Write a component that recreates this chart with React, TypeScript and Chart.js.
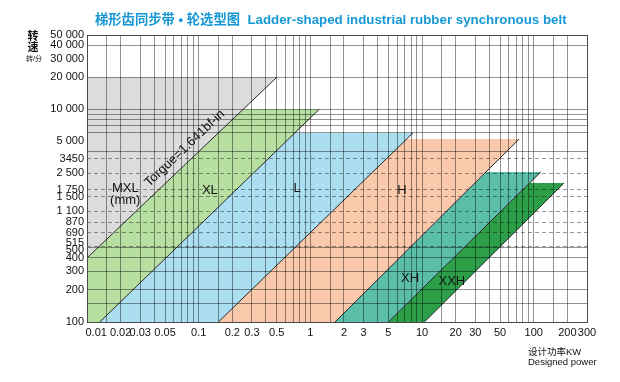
import React, { useEffect, useRef } from 'react';
import { Chart, registerables } from 'chart.js';

Chart.register(...registerables);

const FONT = '"Liberation Sans", Arial, Helvetica, "Noto Sans CJK SC", sans-serif';
const TITLE = '梯形齿同步带 • 轮选型图  Ladder-shaped industrial rubber synchronous belt';

// Belt types: top speed (rpm), power at top-right corner (kW), power at 100 rpm on the right-hand boundary (kW)
const beltNames = ['MXL', 'XL', 'L', 'H', 'XH', 'XXH'];
const beltTopRpm = [20000, 10000, 6000, 5250, 2580, 2030];
const beltTopKw = [0.5, 1.2, 8.3, 74, 116, 187];
const beltBaseKw = [0.0025, 0.013, 0.15, 1.66, 5, 10.5];
const beltColors = ['#dcdcdc', '#b7dfa2', '#abdef0', '#fac8aa', '#5bbea8', '#2c9f48'];

// Region labels (text, power, speed)
const labelText = ['MXL', '(mm)', 'XL', 'L', 'H', 'XH', 'XXH'];
const labelKw = [0.022, 0.022, 0.126, 0.76, 6.6, 7.8, 18.5];
const labelRpm = [1820, 1400, 1745, 1820, 1745, 259, 243];
const torqueText = 'Torgue=1.641bf-in';
const torqueRpm = 3560;

// Axis ticks
const xLabelValues = [0.01, 0.02, 0.03, 0.05, 0.1, 0.2, 0.3, 0.5, 1, 2, 3, 5, 10, 20, 30, 50, 100, 200, 300];
const xLabelTexts = ['      0.01', '0.02', '0.03', '0.05', '0.1', '0.2', '0.3', '0.5', '1', '2', '3', '5', '10', '20', '30', '50', '100', '200', '300'];
const xGridMantissas = [1, 1.5, 2, 3, 4, 5, 6, 7, 8, 9];
const xGridDecades = [0.01, 0.1, 1, 10, 100];

const yLabelValues = [100, 200, 300, 400, 500, 515, 690, 870, 1100, 1500, 1750, 2500, 3450, 5000, 10000, 20000, 30000, 40000, 50000];
const yLabelTexts = ['100', '200', '300', '400', '500', '515', '690', '870', '1 100', '1 500', '1 750', '2 500', '3450', '5 000', '10 000', '20 000', '30 000', '40 000', '50 000'];
const ySolidGrid = [100, 150, 200, 300, 400, 500, 4000, 6000, 7000, 8000, 9000, 10000, 20000, 40000, 50000];
const yDashedGrid = [515, 690, 870, 1100, 1500, 1750, 2500, 3450];

const X_MIN = 0.01, X_MAX = 300, Y_MIN = 100, Y_MAX = 50000;

const near = (a: number, b: number) => Math.abs(a - b) <= Math.abs(b) * 1e-6;

const xGridValues: number[] = [];
xGridDecades.forEach((d) => xGridMantissas.forEach((m) => {
  const v = parseFloat((m * d).toPrecision(6));
  if (v <= X_MAX) xGridValues.push(v);
}));
if (!xGridValues.some((v) => near(v, X_MAX))) xGridValues.push(X_MAX);

const xTickValues = Array.from(new Set([...xGridValues, ...xLabelValues])).sort((a, b) => a - b);
const yTickValues = Array.from(new Set([...ySolidGrid, ...yLabelValues])).sort((a, b) => a - b);

// power on the right-hand boundary of belt i at a given speed (log-log straight line)
function kwOnLine(i: number, rpm: number) {
  const t = Math.log10(rpm / 100) / Math.log10(beltTopRpm[i] / 100);
  return beltBaseKw[i] * Math.pow(10, t * Math.log10(beltTopKw[i] / beltBaseKw[i]));
}

function regionPoints(i: number) {
  const top = beltTopRpm[i];
  const leftBottom = i === 0 ? 0.0001 : kwOnLine(i - 1, 100);
  const leftTop = i === 0 ? 0.0001 : kwOnLine(i - 1, top);
  return [
    { x: leftBottom, y: 100 },
    { x: leftTop, y: top },
    { x: beltTopKw[i], y: top },
    { x: beltBaseKw[i], y: 100 },
  ];
}

const GRID = 'rgba(0,0,0,0.42)';
const EDGE = '#4a4a4a';

const annotate = {
  id: 'annotate',
  afterDraw(chart: any) {
    const { ctx, chartArea: a, scales } = chart;
    const xs = scales.x, ys = scales.y;
    ctx.save();
    ctx.textBaseline = 'middle';
    // title
    ctx.font = `bold 13.3px ${FONT}`;
    ctx.fillStyle = '#1598d5';
    ctx.textAlign = 'left';
    ctx.fillText(TITLE, a.left + 8, a.top - 15);
    // y axis title
    ctx.fillStyle = '#111';
    ctx.textAlign = 'center';
    ctx.font = `bold 11px ${FONT}`;
    ctx.fillText('转', 33, 37);
    ctx.fillText('速', 33, 48);
    ctx.font = `7px ${FONT}`;
    ctx.fillText('转/分', 34, 59);
    // x axis title
    ctx.textAlign = 'left';
    ctx.font = `9.5px ${FONT}`;
    ctx.fillText('设计功率KW', 528, 352);
    ctx.fillText('Designed power', 528, 362);
    // region labels
    ctx.font = `13px ${FONT}`;
    ctx.textAlign = 'center';
    labelText.forEach((t, i) => {
      ctx.fillText(t, xs.getPixelForValue(labelKw[i]), ys.getPixelForValue(labelRpm[i]));
    });
    // torque label along the MXL boundary
    const p0x = xs.getPixelForValue(beltBaseKw[0]);
    const p0y = ys.getPixelForValue(100);
    const p1x = xs.getPixelForValue(beltTopKw[0]);
    const p1y = ys.getPixelForValue(beltTopRpm[0]);
    const ang = Math.atan2(p1y - p0y, p1x - p0x);
    const ax = xs.getPixelForValue(kwOnLine(0, torqueRpm));
    const ay = ys.getPixelForValue(torqueRpm);
    ctx.translate(ax, ay);
    ctx.rotate(ang);
    ctx.fillText(torqueText, 0, -12);
    ctx.restore();
  },
};

export default function App() {
  const ref = useRef<HTMLCanvasElement>(null);
  useEffect(() => {
    const canvas = ref.current;
    if (!canvas) return;

    const regionSets = beltNames.map((name, i) => ({
      label: name,
      data: regionPoints(i),
      showLine: true,
      fill: 'shape',
      backgroundColor: beltColors[i],
      borderColor: 'rgba(0,0,0,0)',
      borderWidth: 0,
      pointRadius: 0,
      order: 2,
    }));
    const edgeSets = beltNames.map((name, i) => ({
      label: name + ' edge',
      data: [
        { x: beltBaseKw[i], y: 100 },
        { x: beltTopKw[i], y: beltTopRpm[i] },
      ],
      showLine: true,
      fill: false,
      borderColor: '#262626',
      borderWidth: 1,
      pointRadius: 0,
      order: 1,
    }));

    const chart = new Chart(canvas, {
      type: 'scatter',
      data: { datasets: [...edgeSets, ...regionSets] as any },
      options: {
        responsive: false,
        animation: false,
        devicePixelRatio: 1,
        layout: { padding: { top: 35, right: 33, left: 0, bottom: 0 } },
        plugins: {
          legend: { display: false },
          tooltip: { enabled: false },
          title: { display: false },
        },
        elements: { point: { radius: 0 }, line: { tension: 0 } },
        scales: {
          x: {
            type: 'logarithmic',
            position: 'bottom',
            min: X_MIN,
            max: X_MAX,
            afterBuildTicks: (s: any) => { s.ticks = xTickValues.map((v) => ({ value: v })); },
            afterFit: (s: any) => { s.height = 60; },
            grid: {
              z: 1,
              drawTicks: false,
              lineWidth: 1,
              color: (c: any) => (c.tick && near(c.tick.value, X_MAX) ? EDGE : GRID),
            },
            border: { z: 2, color: EDGE, width: 1 },
            ticks: {
              z: 2,
              autoSkip: false,
              maxRotation: 0,
              minRotation: 0,
              padding: 4,
              color: '#111',
              font: { family: FONT, size: 11 },
              callback: (v: any) => {
                const k = xLabelValues.findIndex((l) => near(Number(v), l));
                return k >= 0 ? xLabelTexts[k] : '';
              },
            },
          },
          y: {
            type: 'logarithmic',
            position: 'left',
            min: Y_MIN,
            max: Y_MAX,
            afterBuildTicks: (s: any) => { s.ticks = yTickValues.map((v) => ({ value: v })); },
            afterFit: (s: any) => { s.width = 87; },
            grid: {
              z: 1,
              drawTicks: false,
              lineWidth: 1,
              color: (c: any) => {
                const v = c.tick ? c.tick.value : 0;
                if (near(v, Y_MAX)) return EDGE;
                return ySolidGrid.some((g) => near(v, g)) ? GRID : 'rgba(0,0,0,0)';
              },
            },
            border: { z: 2, color: EDGE, width: 1 },
            ticks: {
              z: 2,
              autoSkip: false,
              padding: 3,
              color: '#111',
              font: (c: any) => {
                const v = c.tick ? c.tick.value : 0;
                const lh = near(v, 515) ? '6px' : near(v, 500) ? '5px' : 1.2;
                return { family: FONT, size: 11, lineHeight: lh };
              },
              callback: (v: any) => {
                const k = yLabelValues.findIndex((l) => near(Number(v), l));
                if (k < 0) return '';
                if (yLabelValues[k] === 515) return [yLabelTexts[k], ''];
                if (yLabelValues[k] === 500) return ['', yLabelTexts[k]];
                return yLabelTexts[k];
              },
            },
          },
          y2: {
            type: 'logarithmic',
            axis: 'y',
            position: 'left',
            min: Y_MIN,
            max: Y_MAX,
            afterBuildTicks: (s: any) => { s.ticks = yDashedGrid.map((v) => ({ value: v })); },
            afterFit: (s: any) => { s.width = 0; },
            grid: { z: 1, drawTicks: false, lineWidth: 1, color: 'rgba(0,0,0,0.4)' },
            border: { display: false, dash: [4, 3] },
            ticks: { display: false },
          },
        },
      } as any,
      plugins: [annotate],
    });
    return () => chart.destroy();
  }, []);

  return (
    <div style={{ position: 'fixed', left: 0, top: 0, width: 620, height: 382, background: '#fff' }}>
      <canvas ref={ref} width={620} height={382} style={{ display: 'block', width: 620, height: 382 }} />
    </div>
  );
}
